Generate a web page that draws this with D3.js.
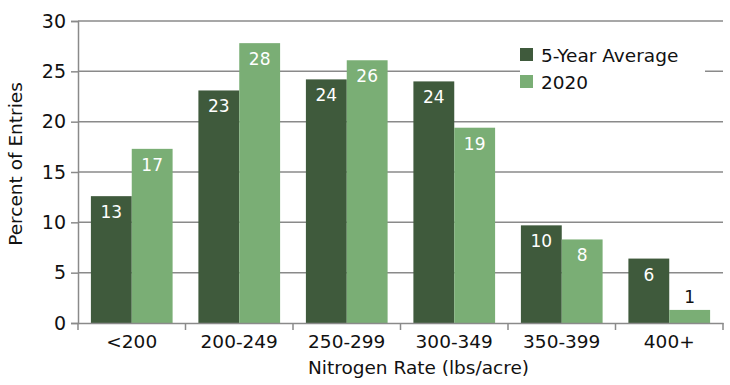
<!DOCTYPE html>
<html lang="en">
<head>
  <meta charset="UTF-8">
  <title>Nitrogen Rate Distribution</title>
  <script src="https://d3js.org/d3.v7.min.js"></script>
  <style>
    body { margin: 0; background: #fff; }
    text { font-family: "DejaVu Sans", "Noto Sans", sans-serif; }
  </style>
</head>
<body>
<script>
// chart data
const categories = ["<200", "200-249", "250-299", "300-349", "350-399", "400+"];
const seriesNames = ["5-Year Average", "2020"];
const fiveYearAvg = [12.6, 23.1, 24.2, 24.0, 9.7, 6.4];
const year2020 = [17.3, 27.8, 26.1, 19.4, 8.3, 1.3];
const yTicks = [0, 5, 10, 15, 20, 25, 30];

const colors = ["#3f5a3c", "#7aae75"];
const width = 730, height = 385;
const margin = { top: 21, right: 7, bottom: 62, left: 78 };

const svg = d3.select("body").append("svg")
  .attr("width", width)
  .attr("height", height);

const x = d3.scaleBand()
  .domain(categories)
  .range([margin.left, width - margin.right])
  .paddingInner(0.24)
  .paddingOuter(0.12);

const xSub = d3.scaleBand()
  .domain(seriesNames)
  .range([0, x.bandwidth()]);

const y = d3.scaleLinear()
  .domain([0, 30])
  .range([height - margin.bottom, margin.top]);

// gridlines
svg.append("g")
  .selectAll("line")
  .data(yTicks.slice(1))
  .join("line")
  .attr("x1", margin.left)
  .attr("x2", width - margin.right)
  .attr("y1", d => y(d))
  .attr("y2", d => y(d))
  .attr("stroke", "#8a8a8a")
  .attr("stroke-width", 1.5);

// bars
const rows = categories.map((c, i) => ({ cat: c, vals: [fiveYearAvg[i], year2020[i]] }));

const groups = svg.append("g")
  .selectAll("g")
  .data(rows)
  .join("g")
  .attr("transform", d => `translate(${x(d.cat)},0)`);

groups.selectAll("rect")
  .data(d => d.vals.map((v, j) => ({ name: seriesNames[j], v, j })))
  .join("rect")
  .attr("x", d => xSub(d.name))
  .attr("y", d => y(d.v))
  .attr("width", xSub.bandwidth())
  .attr("height", d => y(0) - y(d.v))
  .attr("fill", d => colors[d.j]);

groups.selectAll("text")
  .data(d => d.vals.map((v, j) => ({ name: seriesNames[j], v, j })))
  .join("text")
  .attr("x", d => xSub(d.name) + xSub.bandwidth() / 2)
  .attr("y", d => d.v < 4 ? y(d.v) - 7 : y(d.v) + 22)
  .attr("text-anchor", "middle")
  .attr("font-size", 17)
  .attr("fill", d => d.v < 4 ? "#111" : "#fff")
  .text(d => Math.round(d.v));

// y axis
const yAxis = svg.append("g")
  .attr("transform", `translate(${margin.left},0)`)
  .call(d3.axisLeft(y).tickValues(yTicks).tickSize(7).tickPadding(5));
yAxis.select(".domain").attr("stroke", "#8a8a8a").attr("stroke-width", 1.5);
yAxis.selectAll(".tick line").attr("stroke", "#8a8a8a").attr("stroke-width", 1.5);
yAxis.selectAll(".tick text").attr("font-size", 19).attr("fill", "#111");

// x axis
const xAxis = svg.append("g")
  .attr("transform", `translate(0,${y(0)})`)
  .call(d3.axisBottom(x).tickSize(0).tickPadding(12));
xAxis.select(".domain").attr("stroke", "#8a8a8a").attr("stroke-width", 1.5);
xAxis.selectAll(".tick text").attr("font-size", 18.5).attr("fill", "#111");

// category separators
const bounds = categories.map(c => x(c) - x.step() * x.paddingInner() / 2)
  .concat([width - margin.right]);
xAxis.selectAll(".sep")
  .data(bounds)
  .join("line")
  .attr("class", "sep")
  .attr("x1", d => d)
  .attr("x2", d => d)
  .attr("y1", 0)
  .attr("y2", 7)
  .attr("stroke", "#8a8a8a")
  .attr("stroke-width", 1.5);

// axis titles
svg.append("text")
  .attr("x", (margin.left + width - margin.right) / 2 + 18)
  .attr("y", height - 11)
  .attr("text-anchor", "middle")
  .attr("font-size", 18.5)
  .attr("fill", "#111")
  .text("Nitrogen Rate (lbs/acre)");

svg.append("text")
  .attr("transform", `translate(22,164) rotate(-90)`)
  .attr("text-anchor", "middle")
  .attr("font-size", 18.5)
  .attr("fill", "#111")
  .text("Percent of Entries");

// legend
const legend = svg.append("g").attr("transform", "translate(520,42)");
legend.append("rect")
  .attr("x", 0).attr("y", 0)
  .attr("width", 185).attr("height", 52)
  .attr("fill", "#fff");
legend.selectAll(".item")
  .data(seriesNames)
  .join("g")
  .attr("class", "item")
  .attr("transform", (d, i) => `translate(0,${i * 27})`)
  .each(function(d, i) {
    const g = d3.select(this);
    g.append("rect")
      .attr("x", 0).attr("y", 6)
      .attr("width", 13).attr("height", 13)
      .attr("fill", colors[i]);
    g.append("text")
      .attr("x", 21).attr("y", 20)
      .attr("font-size", 18.5)
      .attr("fill", "#111")
      .text(d);
  });
</script>
</body>
</html>
